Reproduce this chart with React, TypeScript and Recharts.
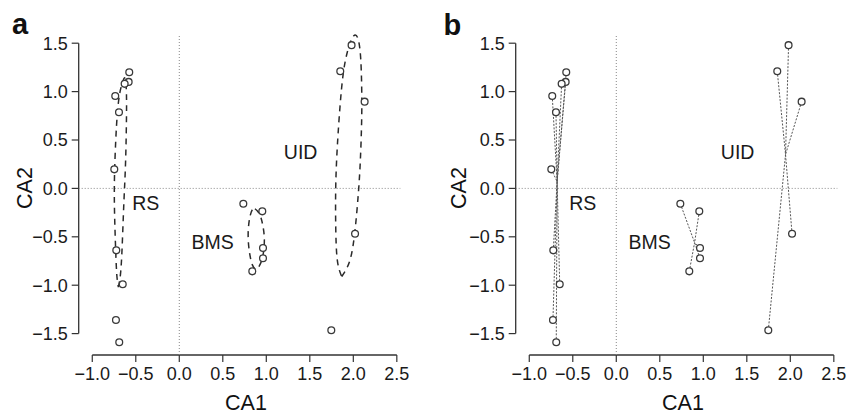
import React from 'react';
import { ComposedChart, Line, ReferenceDot, ReferenceLine, Scatter, XAxis, YAxis } from 'recharts';

const FONT = '"Liberation Sans", Arial, Helvetica, sans-serif';

// sample scores on CA1 / CA2
const RS_POINTS: [number, number][] = [
  [-0.575, 1.2], [-0.582, 1.1], [-0.628, 1.08], [-0.736, 0.955], [-0.693, 0.786],
  [-0.747, 0.197], [-0.724, -0.64], [-0.65, -0.99], [-0.728, -1.36], [-0.69, -1.59],
];
const BMS_POINTS: [number, number][] = [
  [0.736, -0.158], [0.954, -0.237], [0.962, -0.616], [0.962, -0.722], [0.839, -0.857],
];
const UID_POINTS: [number, number][] = [
  [1.98, 1.48], [1.85, 1.21], [2.13, 0.896], [2.02, -0.468], [1.747, -1.466],
];

// group centroids (spider hubs in panel b)
const RS_CENTER: [number, number] = [-0.68, 0.07];
const BMS_CENTER: [number, number] = [0.9, -0.56];
const UID_CENTER: [number, number] = [1.945, 0.35];

// dispersion ellipses
const RS_ELLIPSE: [number, number][] = [
  [-0.7, -1.02], [-0.672, -0.85], [-0.652, -0.5], [-0.636, -0.13], [-0.62, 0.2],
  [-0.61, 0.55], [-0.606, 0.85], [-0.61, 1.04], [-0.625, 1.14], [-0.65, 1.1],
  [-0.685, 0.98], [-0.712, 0.77], [-0.73, 0.5], [-0.744, 0.15], [-0.746, -0.15],
  [-0.738, -0.45], [-0.724, -0.8], [-0.712, -0.95], [-0.7, -1.02],
];
const BMS_ELLIPSE: [number, number][] = [
  [0.87, -0.21], [0.92, -0.26], [0.955, -0.36], [0.975, -0.48], [0.975, -0.6],
  [0.955, -0.72], [0.92, -0.8], [0.88, -0.835], [0.84, -0.79], [0.81, -0.68],
  [0.793, -0.54], [0.795, -0.4], [0.815, -0.28], [0.84, -0.22], [0.87, -0.21],
];
const UID_ELLIPSE: [number, number][] = [
  [1.867, -0.912], [1.962, -0.74], [2.02, -0.43], [2.058, -0.05], [2.081, 0.293],
  [2.096, 0.707], [2.096, 1.05], [2.077, 1.43], [2.02, 1.585], [1.943, 1.447],
  [1.885, 1.19], [1.847, 0.844], [1.816, 0.43], [1.798, 0.017], [1.798, -0.396],
  [1.816, -0.74], [1.867, -0.912],
];

const GROUP_LABELS = ['RS', 'BMS', 'UID'];
const LABEL_POS: [number, number][] = [[-0.385, -0.154], [0.384, -0.551], [1.395, 0.379]];

const X_TICKS = [-1, -0.5, 0, 0.5, 1, 1.5, 2, 2.5];
const Y_TICKS = [-1.5, -1, -0.5, 0, 0.5, 1, 1.5];
const X_DOMAIN = [-1.156, 2.54];
const Y_DOMAIN = [-1.721, 1.594];

const toXY = (pts: [number, number][]) => pts.map(([x, y]) => ({ x, y }));
const fmt = (v: number) => (v < 0 ? '\u2212' : '') + Math.abs(v).toFixed(1);

const Ring = (props: any) => (
  <circle cx={props.cx} cy={props.cy} r={3.4} fill="#fff" stroke="#3a3a3a" strokeWidth={1.3} />
);

const GROUPS = [
  { pts: RS_POINTS, center: RS_CENTER, ellipse: RS_ELLIPSE },
  { pts: BMS_POINTS, center: BMS_CENTER, ellipse: BMS_ELLIPSE },
  { pts: UID_POINTS, center: UID_CENTER, ellipse: UID_ELLIPSE },
];

const Panel: React.FC<{ spider: boolean }> = ({ spider }) => (
  <ComposedChart width={409} height={414} margin={{ top: 34.1, right: 8.7, left: 18.7, bottom: 29 }}>
    <XAxis
      type="number"
      dataKey="x"
      domain={X_DOMAIN}
      allowDataOverflow
      ticks={X_TICKS}
      tickFormatter={fmt}
      axisLine={false}
      tickLine={{ stroke: '#333', strokeWidth: 1.2 }}
      tickSize={7}
      tickMargin={5}
      height={30}
      interval={0}
      tick={{ fill: '#1a1a1a', fontSize: 18, fontFamily: FONT }}
    />
    <YAxis
      type="number"
      dataKey="y"
      domain={Y_DOMAIN}
      allowDataOverflow
      ticks={Y_TICKS}
      tickFormatter={fmt}
      axisLine={false}
      tickLine={{ stroke: '#333', strokeWidth: 1.2 }}
      tickSize={7}
      tickMargin={4}
      width={60}
      interval={0}
      tick={{ fill: '#1a1a1a', fontSize: 18, fontFamily: FONT }}
    />
    {/* R-style axis lines that only span the tick range */}
    <ReferenceLine segment={[{ x: -1, y: Y_DOMAIN[0] }, { x: 2.5, y: Y_DOMAIN[0] }]} stroke="#333" strokeWidth={1.3} ifOverflow="visible" />
    <ReferenceLine segment={[{ x: X_DOMAIN[0], y: -1.5 }, { x: X_DOMAIN[0], y: 1.5 }]} stroke="#333" strokeWidth={1.3} ifOverflow="visible" />
    <ReferenceLine x={0} stroke="#888" strokeDasharray="1 2" />
    <ReferenceLine y={0} stroke="#888" strokeDasharray="1 2" />

    {!spider &&
      GROUPS.map((g, i) => (
        <Line
          key={'e' + i}
          data={toXY(g.ellipse)}
          dataKey="y"
          type="natural"
          stroke="#2a2a2a"
          strokeWidth={1.5}
          strokeDasharray="6 5"
          dot={false}
          activeDot={false}
          isAnimationActive={false}
        />
      ))}

    {spider &&
      GROUPS.map((g, i) =>
        g.pts.map(([x, y], j) => (
          <ReferenceLine
            key={`s${i}-${j}`}
            segment={[{ x, y }, { x: g.center[0], y: g.center[1] }]}
            stroke="#555"
            strokeWidth={1}
            strokeDasharray="2 1.5"
          />
        ))
      )}

    {GROUPS.map((g, i) => (
      <Scatter key={'p' + i} data={toXY(g.pts)} dataKey="y" shape={Ring} isAnimationActive={false} />
    ))}

    {GROUP_LABELS.map((name, i) => (
      <ReferenceDot
        key={name}
        x={LABEL_POS[i][0]}
        y={LABEL_POS[i][1]}
        r={0}
        stroke="none"
        fill="none"
        label={{ value: name, position: 'center', fontSize: 19.5, fill: '#1a1a1a', fontFamily: FONT }}
      />
    ))}
  </ComposedChart>
);

export default function App() {
  return (
    <div style={{ position: 'absolute', left: 0, top: 0, width: 846, height: 414, background: '#fff', fontFamily: FONT }}>
      <div style={{ position: 'absolute', left: 0, top: 0 }}>
        <Panel spider={false} />
      </div>
      <div style={{ position: 'absolute', left: 437, top: 0 }}>
        <Panel spider={true} />
      </div>
      <svg width={846} height={414} style={{ position: 'absolute', left: 0, top: 0, pointerEvents: 'none' }}>
        <g fontFamily={FONT} fill="#111">
          <text x={12} y={34} fontSize={29} fontWeight="bold">a</text>
          <text x={443.5} y={35} fontSize={29} fontWeight="bold">b</text>
          <text x={246} y={410} fontSize={21.5} textAnchor="middle">CA1</text>
          <text x={683} y={410} fontSize={21.5} textAnchor="middle">CA1</text>
          <text x={32} y={188} fontSize={21.5} textAnchor="middle" transform="rotate(-90 32 188)">CA2</text>
          <text x={466} y={188} fontSize={21.5} textAnchor="middle" transform="rotate(-90 466 188)">CA2</text>
        </g>
      </svg>
    </div>
  );
}
